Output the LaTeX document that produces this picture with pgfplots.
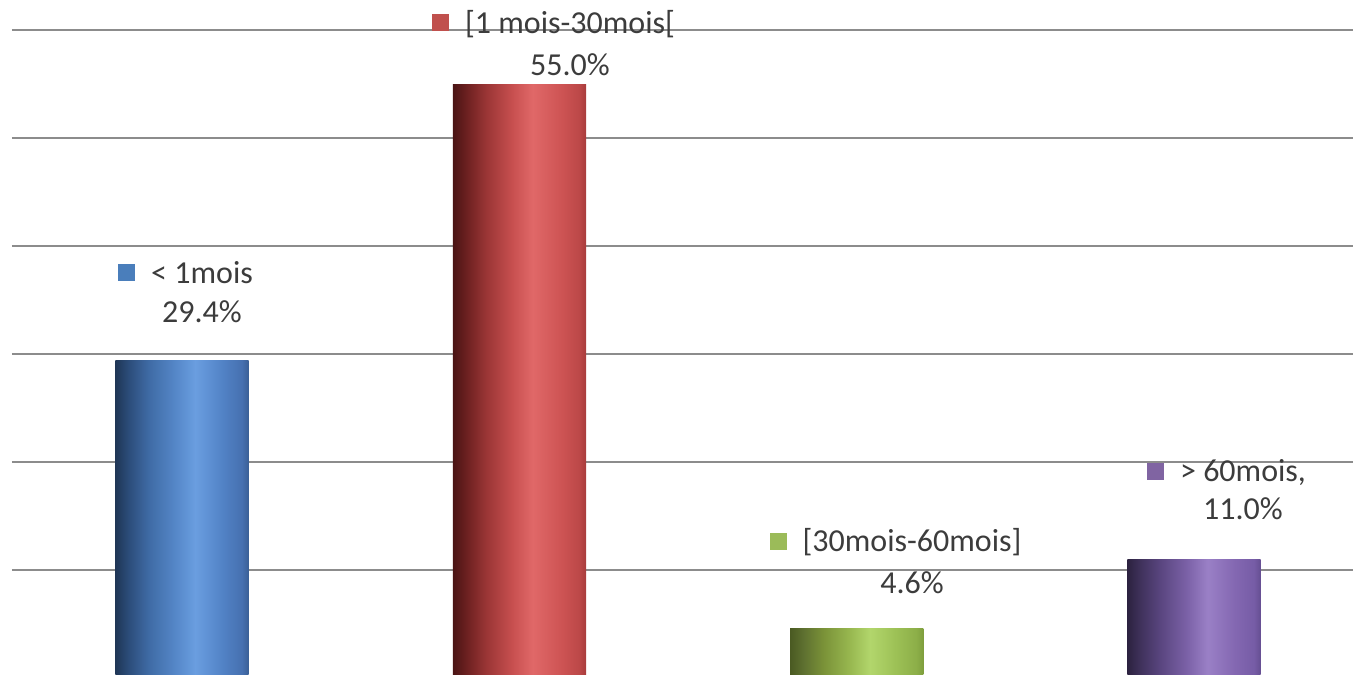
\documentclass[border=0pt]{standalone}
\usepackage{pgfplots}
\pgfplotsset{compat=1.18}
\usepackage{fontspec}
\setmainfont{Carlito}

\definecolor{txt}{HTML}{3C3C3C}
\definecolor{gridc}{HTML}{8C8C8C}
\definecolor{k1}{HTML}{4A7EBB}
\definecolor{k2}{HTML}{C0504D}
\definecolor{k3}{HTML}{9BBB59}
\definecolor{k4}{HTML}{8064A2}

% blue
\definecolor{b0}{HTML}{1F3656}\definecolor{b1}{HTML}{2C4D7A}\definecolor{b2}{HTML}{3F6BA5}
\definecolor{b3}{HTML}{5587C8}\definecolor{b4}{HTML}{6A9EE0}\definecolor{b5}{HTML}{5283C6}
\definecolor{b6}{HTML}{4670B0}\definecolor{b7}{HTML}{3A5F95}
% red
\definecolor{r0}{HTML}{4A1414}\definecolor{r1}{HTML}{6B2020}\definecolor{r2}{HTML}{9A3535}
\definecolor{r3}{HTML}{C85050}\definecolor{r4}{HTML}{E06868}\definecolor{r5}{HTML}{CF5555}
\definecolor{r6}{HTML}{BC4848}\definecolor{r7}{HTML}{A83C3C}
% green
\definecolor{g0}{HTML}{4A5A22}\definecolor{g1}{HTML}{5E7030}\definecolor{g2}{HTML}{7A9238}
\definecolor{g3}{HTML}{98B850}\definecolor{g4}{HTML}{B2D66C}\definecolor{g5}{HTML}{9CC055}
\definecolor{g6}{HTML}{8CAE48}\definecolor{g7}{HTML}{7E9E3C}
% purple
\definecolor{p0}{HTML}{2C2240}\definecolor{p1}{HTML}{40325C}\definecolor{p2}{HTML}{5A4680}
\definecolor{p3}{HTML}{7C62A8}\definecolor{p4}{HTML}{9A80C6}\definecolor{p5}{HTML}{8468B2}
\definecolor{p6}{HTML}{765CA6}\definecolor{p7}{HTML}{654E92}

\pgfdeclarehorizontalshading{blueshade}{100bp}{color(0bp)=(b0); color(25bp)=(b0); color(30bp)=(b1); color(37.5bp)=(b2); color(47.5bp)=(b3); color(55bp)=(b4); color(65bp)=(b5); color(72.5bp)=(b6); color(75bp)=(b7); color(100bp)=(b7)}
\pgfdeclarehorizontalshading{redshade}{100bp}{color(0bp)=(r0); color(25bp)=(r0); color(30bp)=(r1); color(37.5bp)=(r2); color(47.5bp)=(r3); color(55bp)=(r4); color(65bp)=(r5); color(72.5bp)=(r6); color(75bp)=(r7); color(100bp)=(r7)}
\pgfdeclarehorizontalshading{greenshade}{100bp}{color(0bp)=(g0); color(25bp)=(g0); color(30bp)=(g1); color(37.5bp)=(g2); color(47.5bp)=(g3); color(55bp)=(g4); color(65bp)=(g5); color(72.5bp)=(g6); color(75bp)=(g7); color(100bp)=(g7)}
\pgfdeclarehorizontalshading{purpleshade}{100bp}{color(0bp)=(p0); color(25bp)=(p0); color(30bp)=(p1); color(37.5bp)=(p2); color(47.5bp)=(p3); color(55bp)=(p4); color(65bp)=(p5); color(72.5bp)=(p6); color(75bp)=(p7); color(100bp)=(p7)}

\tikzset{lab/.style={font=\fontsize{16}{19}\selectfont, text=txt, inner sep=0pt, outer sep=0pt}}

\begin{document}
\begin{tikzpicture}
\useasboundingbox (0,0) rectangle (676.5pt,337pt);
\begin{axis}[
  at={(6pt,0pt)}, anchor=south west,
  scale only axis, width=670.5pt, height=337pt,
  xmin=-0.504, xmax=3.471, ymin=0.37, ymax=62.78,
  axis line style={draw=none},
  xtick=\empty, ytick={10,20,30,40,50,60}, yticklabels={},
  major tick length=0pt,
  ymajorgrids, grid style={line width=1.3pt, color=gridc},
]
\addplot[ybar, bar width=0.395, bar shift=0pt, draw=none, shade, shading=blueshade] coordinates {(0,29.4)};
\addplot[ybar, bar width=0.395, bar shift=0pt, draw=none, shade, shading=redshade] coordinates {(1,55.0)};
\addplot[ybar, bar width=0.395, bar shift=0pt, draw=none, shade, shading=greenshade] coordinates {(2,4.6)};
\addplot[ybar, bar width=0.395, bar shift=0pt, draw=none, shade, shading=purpleshade] coordinates {(3,11.0)};

\node[lab, anchor=base] (t1) at (axis cs:0.0593,36.57) {< 1mois};
\node[lab, anchor=base] at (axis cs:0.0593,32.96) {29.4\%};
\node[lab, anchor=base east] at ([xshift=-8pt]t1.base west) {\textcolor{k1}{\rule[1pt]{8.5pt}{8.5pt}}};

\node[lab, anchor=base] (t2) at (axis cs:1.150,59.72) {[1 mois-30mois[};
\node[lab, anchor=base] at (axis cs:1.150,55.83) {55.0\%};
\node[lab, anchor=base east] at ([xshift=-8pt]t2.base west) {\textcolor{k2}{\rule[1pt]{8.5pt}{8.5pt}}};

\node[lab, anchor=base] (t3) at (axis cs:2.164,11.67) {[30mois-60mois]};
\node[lab, anchor=base] at (axis cs:2.164,7.87) {4.6\%};
\node[lab, anchor=base east] at ([xshift=-8pt]t3.base west) {\textcolor{k3}{\rule[1pt]{8.5pt}{8.5pt}}};

\node[lab, anchor=base] (t4) at (axis cs:3.145,18.15) {> 60mois,};
\node[lab, anchor=base] at (axis cs:3.145,14.63) {11.0\%};
\node[lab, anchor=base east] at ([xshift=-8pt]t4.base west) {\textcolor{k4}{\rule[1pt]{8.5pt}{8.5pt}}};
\end{axis}
\end{tikzpicture}
\end{document}
